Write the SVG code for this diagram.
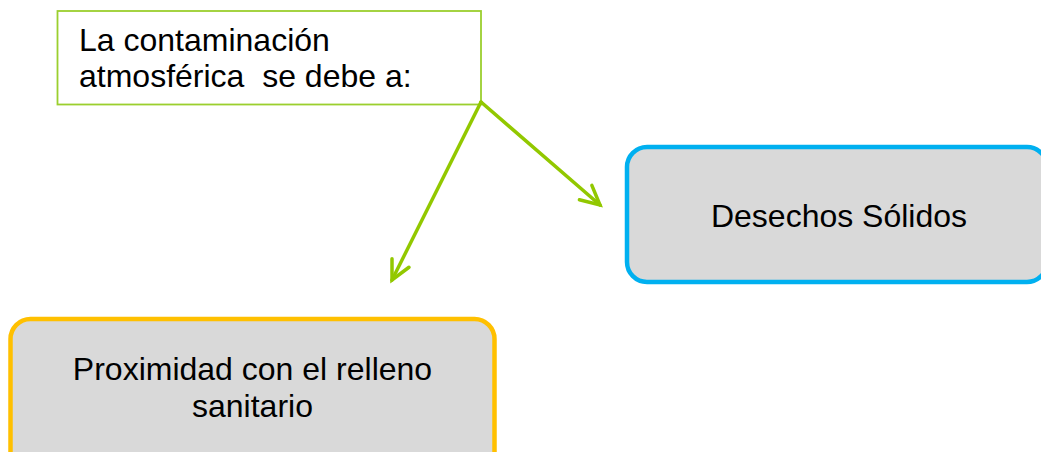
<svg xmlns="http://www.w3.org/2000/svg" width="1041" height="452" viewBox="0 0 1041 452">
  <style>
    .t { font-family: "Liberation Sans", Arial, sans-serif; font-size: 32px; fill: #000000; }
    .node { fill: #D9D9D9; stroke-width: 4.5; }
    .conn { stroke: #92C800; stroke-width: 3.5; fill: none; stroke-linecap: round; marker-end: url(#arrow); }
  </style>
  <defs>
    <marker id="arrow" markerUnits="userSpaceOnUse" viewBox="-24 -13 28 26" refX="0" refY="0" markerWidth="28" markerHeight="26" orient="auto">
      <path d="M-19,-9.5 L0,0 L-19,9.5" fill="none" stroke="#92C800" stroke-width="3.5" stroke-linecap="round" stroke-linejoin="miter"/>
    </marker>
  </defs>
  <rect width="1041" height="452" fill="#FFFFFF"/>
  <g id="top">
    <rect x="57.5" y="11" width="423.5" height="93.5" fill="#FFFFFF" stroke="#9BCF2E" stroke-width="1.8"/>
    <text class="t" x="79" y="51">La contaminación</text>
    <text class="t" x="79" y="87" xml:space="preserve">atmosférica  se debe a:</text>
  </g>
  <g id="desechos">
    <rect class="node" x="627" y="147" width="420" height="135" rx="20" ry="20" stroke="#00B0F0"/>
    <text class="t" x="839" y="227" text-anchor="middle">Desechos Sólidos</text>
  </g>
  <g id="proximidad">
    <rect class="node" x="10.5" y="319" width="484" height="160" rx="20" ry="20" stroke="#FFC000"/>
    <text class="t" x="252.5" y="380" text-anchor="middle">Proximidad con el relleno</text>
    <text class="t" x="252.5" y="417" text-anchor="middle">sanitario</text>
  </g>
  <g id="connectors">
    <line class="conn" x1="481" y1="102" x2="600" y2="205"/>
    <line class="conn" x1="481" y1="102" x2="392" y2="280"/>
  </g>
</svg>
